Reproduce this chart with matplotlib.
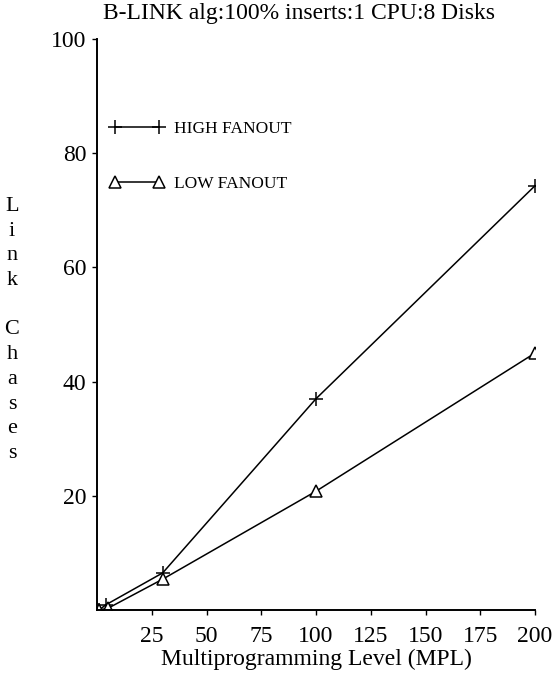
import matplotlib.pyplot as plt

# data
mpl_high = [1, 4, 30, 100, 200]
chases_high = [0, 0.9, 6.5, 37, 74.3]
mpl_low = [1, 5, 30, 100, 200]
chases_low = [0, 0.3, 5.4, 20.8, 45]

x_ticks = [25, 50, 75, 100, 125, 150, 175, 200]
y_ticks = [20, 40, 60, 80, 100]

plt.rcParams['font.family'] = ['Liberation Serif', 'DejaVu Serif']

fig = plt.figure(figsize=(5.56, 6.77), dpi=100)
ax = fig.add_axes([97 / 556, 67 / 677, 438 / 556, 571 / 677])

ax.plot(mpl_high, chases_high, color='black', lw=1.1, marker='+', ms=10,
        mew=1.1, label='HIGH FANOUT')
ax.plot(mpl_low, chases_low, color='black', lw=1.1, marker='^', ms=8,
        mfc='white', mew=1.1, label='LOW FANOUT')

ax.set_xlim(0, 200)
ax.set_ylim(0, 100)
ax.set_xticks(x_ticks)
ax.set_yticks(y_ticks)
ax.tick_params(direction='out', length=3.5, width=1, labelsize=17)
ax.tick_params(axis='x', pad=8)
ax.tick_params(axis='y', pad=4)
for s in ['top', 'right']:
    ax.spines[s].set_visible(False)
for s in ['left', 'bottom']:
    ax.spines[s].set_linewidth(1.4)

ax.set_xlabel('Multiprogramming Level (MPL)', fontsize=17, labelpad=1)
# stacked vertical y label, one letter per line
fig.text(12 / 556, 1 - 330 / 677, '\n'.join('Link Chases'),
         ha='center', va='center', fontsize=16, linespacing=1.41)
fig.text(299 / 556, 1 - 14 / 677, 'B-LINK alg:100% inserts:1 CPU:8 Disks',
         ha='center', va='center', fontsize=17)

ax.legend(loc='upper left', bbox_to_anchor=(0.03, 0.856), frameon=False,
          numpoints=2, handlelength=3.1, handletextpad=0.6, labelspacing=2.2,
          borderpad=0, borderaxespad=0, fontsize=12.5)

fig.savefig('out.png', dpi=100)
